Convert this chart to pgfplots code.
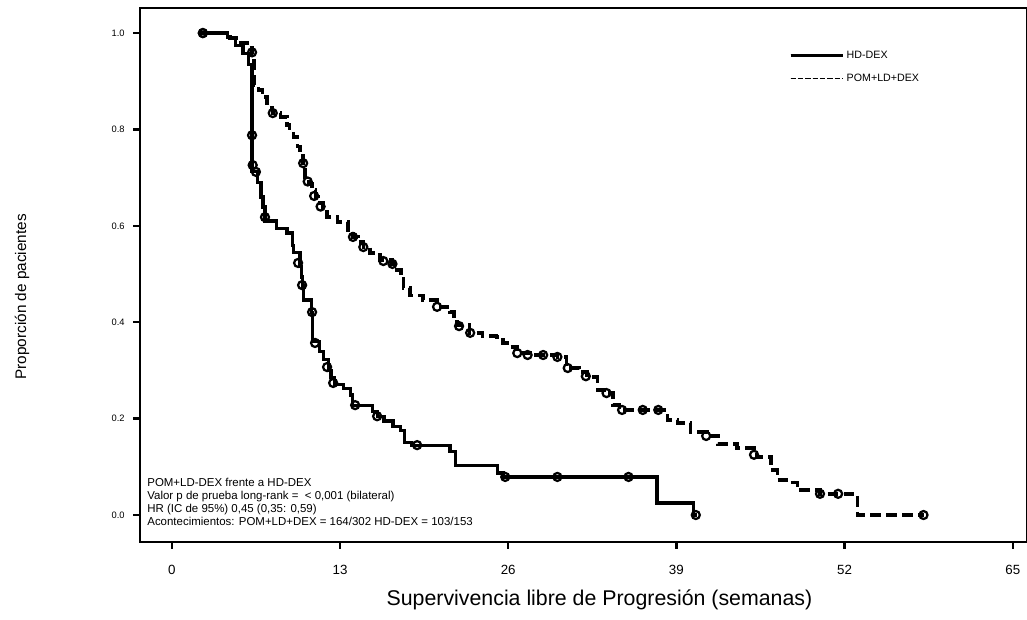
\documentclass[border=0pt]{standalone}
\usepackage{fontspec}
\setmainfont{Liberation Sans}
\usepackage{pgfplots}
\usepackage{pgfplotstable}
\pgfplotsset{compat=1.18}

\pgfplotstableread{
w y
2.2 1.000
4.3 0.990
4.9 0.975
5.5 0.958
5.9 0.935
6.2 0.712
6.6 0.690
6.9 0.660
7.05 0.639
7.2 0.610
8.1 0.595
8.9 0.585
9.3 0.560
9.4 0.544
9.9 0.515
10.05 0.494
10.1 0.475
10.15 0.446
10.8 0.421
10.9 0.360
11.4 0.340
11.7 0.322
12.1 0.300
12.3 0.286
12.6 0.270
13.3 0.262
13.8 0.249
13.95 0.228
15.5 0.214
15.9 0.205
16.4 0.195
17.1 0.183
17.65 0.176
18.0 0.150
18.5 0.145
21.5 0.131
21.9 0.102
25.2 0.087
25.6 0.079
37.5 0.025
40.3 0.000
40.6 0.000
}\hddex

\pgfplotstableread{
w y
2.4 1.000
6.2 0.788
6.25 0.726
6.5 0.712
7.2 0.618
9.76 0.523
10.07 0.477
10.84 0.421
11.07 0.357
12.0 0.307
12.47 0.274
14.17 0.228
15.87 0.205
18.96 0.145
25.77 0.079
29.8 0.079
35.3 0.079
40.5 0.000
}\hddexc

\pgfplotstableread{
w y
2.2 1.000
4.5 0.990
5.3 0.979
5.8 0.970
6.2 0.955
6.35 0.892
6.7 0.882
7.0 0.867
7.35 0.846
7.8 0.834
8.4 0.826
8.9 0.809
9.1 0.795
9.4 0.784
9.7 0.765
9.9 0.751
10.15 0.730
10.3 0.701
10.6 0.688
10.85 0.674
11.1 0.660
11.3 0.647
11.7 0.633
12.0 0.618
12.8 0.608
13.6 0.591
14.0 0.577
14.4 0.566
14.8 0.556
15.3 0.544
16.1 0.529
17.0 0.521
17.4 0.508
17.7 0.490
17.9 0.471
18.4 0.456
19.4 0.446
20.5 0.432
21.5 0.421
21.8 0.405
22.05 0.394
23.0 0.378
24.0 0.371
25.1 0.369
25.6 0.357
25.9 0.349
26.7 0.336
27.7 0.332
29.8 0.328
30.5 0.305
31.5 0.297
32.1 0.286
32.9 0.259
33.6 0.253
34.1 0.228
34.6 0.218
38.3 0.197
39.1 0.191
40.1 0.172
41.4 0.164
42.2 0.147
43.7 0.139
45.2 0.120
46.3 0.093
46.8 0.073
48.0 0.068
48.35 0.052
50.1 0.044
53.0 0.000
58.1 0.000
}\pom

\pgfplotstableread{
w y
2.4 1.000
6.2 0.960
7.8 0.834
10.15 0.730
10.5 0.692
11.0 0.662
11.5 0.640
14.0 0.577
14.8 0.556
16.35 0.527
17.05 0.521
20.5 0.432
22.2 0.392
23.06 0.378
26.7 0.336
27.5 0.332
28.7 0.332
29.8 0.328
30.6 0.305
32.0 0.288
33.6 0.253
34.8 0.218
36.4 0.218
37.6 0.218
41.3 0.164
45.0 0.125
50.1 0.044
51.5 0.044
58.1 0.000
}\pomc

\begin{document}
\begin{tikzpicture}
\begin{axis}[
  scale only axis,
  width=665.25pt, height=400.5pt,
  xmin=-2.46, xmax=66.1, ymin=-0.056, ymax=1.052,
  xtick={0,13,26,39,52,65},
  ytick={0,0.2,0.4,0.6,0.8,1.0},
  tick align=outside, tick pos=left,
  major tick length=5pt,
  axis line style={line width=1.8pt},
  every tick/.style={black, line width=1.8pt},
  /pgf/number format/assume math mode=true,
  yticklabel style={/pgf/number format/fixed, /pgf/number format/fixed zerofill, /pgf/number format/precision=1, font=\fontsize{7}{8}\selectfont, xshift=-3pt},
  xticklabel style={font=\fontsize{10}{12}\selectfont, yshift=-9pt},
  xlabel={Supervivencia libre de Progresión (semanas)},
  xlabel style={at={(axis description cs:0.518,-0.109)}, anchor=center, font=\fontsize{16}{19}\selectfont},
  ylabel={Proporción de pacientes},
  ylabel style={at={(axis description cs:-0.133,0.459)}, anchor=center, font=\fontsize{11.5}{14}\selectfont},
  legend style={at={(axis description cs:0.727,0.93)}, anchor=north west, draw=none, fill=none, font=\fontsize{8}{9.6}\selectfont, row sep=6pt},
  legend cell align=left,
  legend image code/.code={\draw[#1] (0pt,0pt) -- (28pt,0pt); \path (0pt,0pt) -- (39pt,0pt);},
]
\addplot[const plot, black, line width=2.4pt, forget plot] table[x=w, y=y] {\hddex};
\addplot[only marks, mark=o, mark size=3pt, mark options={black, line width=1.7pt, fill=white}, forget plot] table[x=w, y=y] {\hddexc};
\addplot[const plot, black, line width=2.6pt, dash pattern=on 8pt off 4pt, forget plot] table[x=w, y=y] {\pom};
\addplot[only marks, mark=o, mark size=3pt, mark options={black, solid, line width=1.7pt, fill=white}, forget plot] table[x=w, y=y] {\pomc};

\addlegendimage{black, line width=2.2pt}
\addlegendentry{HD-DEX}
\addlegendimage{black, line width=1pt, dash pattern=on 4pt off 1.5pt}
\addlegendentry{POM+LD+DEX}

\node[anchor=south west, align=left, inner sep=0pt, font=\fontsize{8.6}{9.7}\selectfont] at (rel axis cs:0.008,0.03)
 {POM+LD-DEX frente a HD-DEX\\
  Valor p de prueba long-rank =\ \ < 0,001 (bilateral)\\
  HR (IC de 95\%) 0,45 (0,35: 0,59)\\
  Acontecimientos: POM+LD+DEX = 164/302 HD-DEX = 103/153};
\end{axis}
\pgfresetboundingbox
\path[use as bounding box] (-105pt,-57.75pt) rectangle (665.25pt,406.5pt);
\end{tikzpicture}
\end{document}
